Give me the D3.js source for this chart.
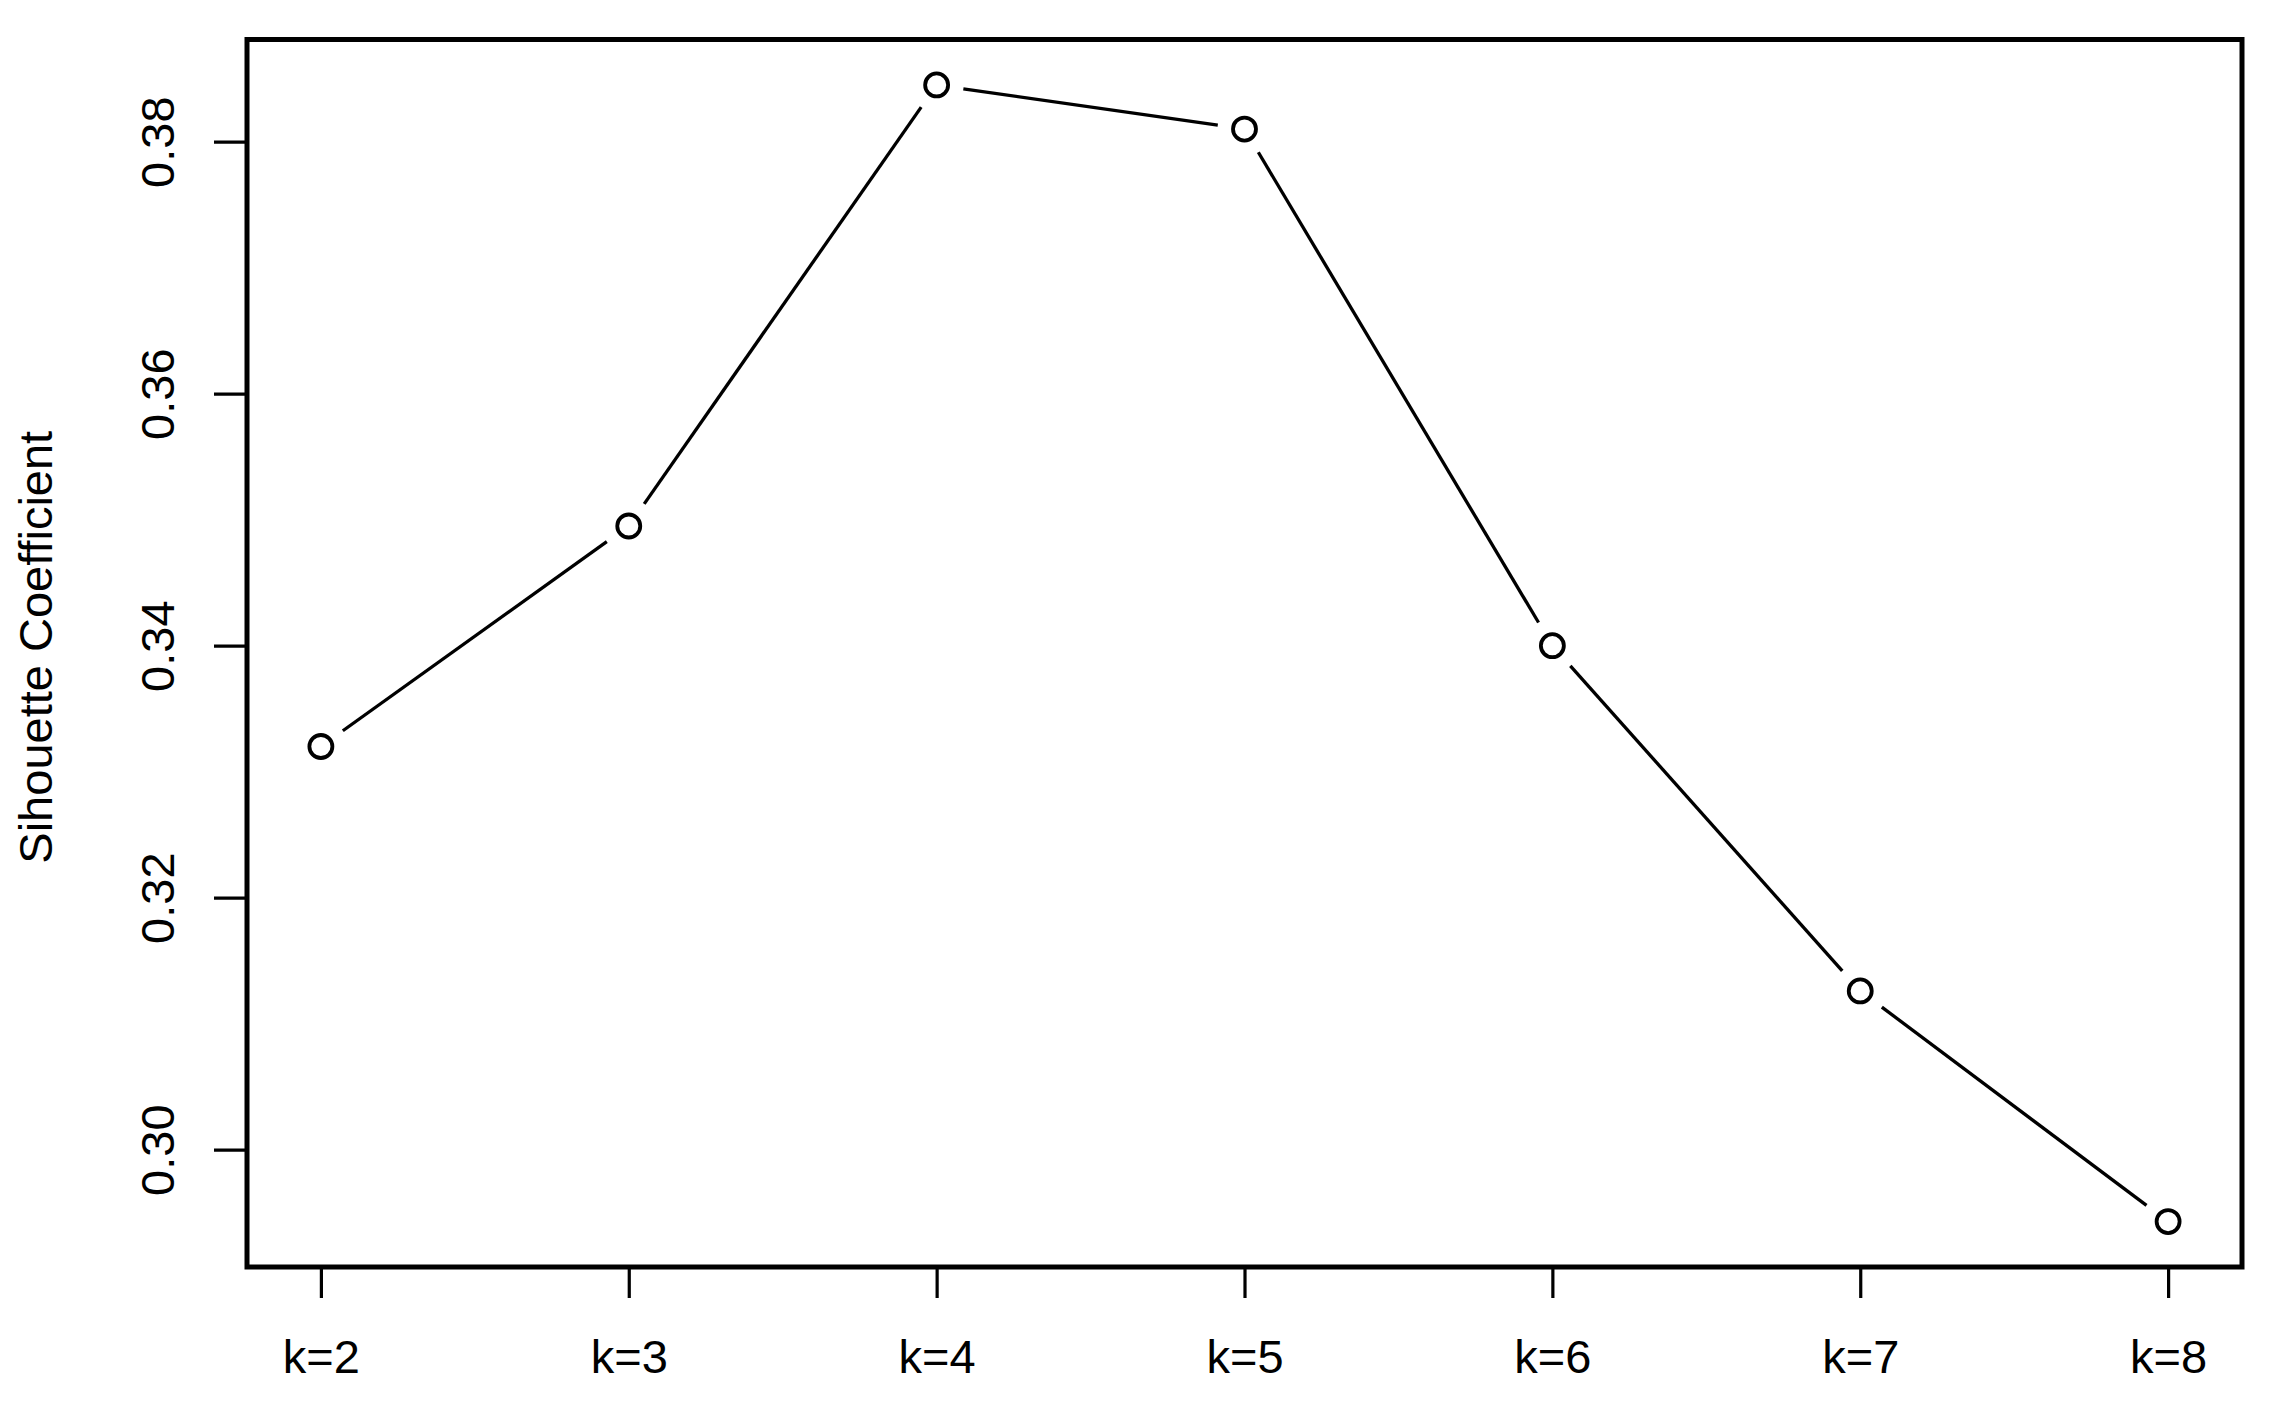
<!DOCTYPE html>
<html>
<head>
<meta charset="utf-8">
<script src="https://cdn.jsdelivr.net/npm/d3@7"></script>
<style>
  html, body { margin: 0; padding: 0; background: #fff; }
  text { font-family: "Liberation Sans", Arial, sans-serif; fill: #000; }
</style>
</head>
<body>
<script>
//categories and values
var kLabels = ["k=2", "k=3", "k=4", "k=5", "k=6", "k=7", "k=8"];
var kValues = [2, 3, 4, 5, 6, 7, 8];
var silhouette = [0.3320, 0.3495, 0.3845, 0.3810, 0.3400, 0.3126, 0.2943];
var yTicks = [0.30, 0.32, 0.34, 0.36, 0.38];
var yTitle = "Sihouette Coefficient";

(function(){
    var width = 2291,
        height = 1405;

    //plot box
    var left = 247, right = 2242, top = 39.5, bottom = 1267;

    var svg = d3.select("body")
        .append("svg")
        .attr("width", width)
        .attr("height", height);

    //R style 4% padding on both axes
    var xPad = (d3.max(kValues) - d3.min(kValues)) * 0.04;
    var x = d3.scaleLinear()
        .domain([d3.min(kValues) - xPad, d3.max(kValues) + xPad])
        .range([left, right]);

    var yPad = (d3.max(silhouette) - d3.min(silhouette)) * 0.04;
    var y = d3.scaleLinear()
        .domain([d3.min(silhouette) - yPad, d3.max(silhouette) + yPad])
        .range([bottom, top]);

    //x axis
    var xAxis = d3.axisBottom(x)
        .tickValues(kValues)
        .tickSize(31)
        .tickPadding(41.5)
        .tickFormat(function(d, i){ return kLabels[i]; });

    var gx = svg.append("g")
        .attr("transform", "translate(0," + bottom + ")")
        .call(xAxis);
    gx.select(".domain").remove();
    gx.selectAll(".tick line").attr("stroke", "#000").attr("stroke-width", 3.2);
    gx.selectAll(".tick text")
        .attr("font-size", 47)
        .attr("font-family", "Liberation Sans, Arial, sans-serif");

    //y axis, labels rotated like R
    var yAxis = d3.axisLeft(y)
        .tickValues(yTicks)
        .tickSize(33)
        .tickFormat(d3.format(".2f"));

    var gy = svg.append("g")
        .attr("transform", "translate(" + left + ",0)")
        .call(yAxis);
    gy.select(".domain").remove();
    gy.selectAll(".tick line").attr("stroke", "#000").attr("stroke-width", 3.2);
    gy.selectAll(".tick text")
        .attr("font-size", 47)
        .attr("font-family", "Liberation Sans, Arial, sans-serif")
        .attr("x", null)
        .attr("dy", null)
        .attr("text-anchor", "middle")
        .attr("transform", "translate(-73,0) rotate(-90)");

    //y title
    svg.append("text")
        .attr("transform", "translate(52," + ((top + bottom) / 2 - 6) + ") rotate(-90)")
        .attr("text-anchor", "middle")
        .attr("font-size", 47)
        .text(yTitle);

    //line segments with gaps around the points (type = "b")
    var gap = 27;
    var segs = [];
    for (var i = 0; i < kValues.length - 1; i++){
        var x1 = x(kValues[i]), y1 = y(silhouette[i]),
            x2 = x(kValues[i + 1]), y2 = y(silhouette[i + 1]);
        var len = Math.sqrt((x2 - x1) * (x2 - x1) + (y2 - y1) * (y2 - y1));
        var ux = (x2 - x1) / len, uy = (y2 - y1) / len;
        segs.push([x1 + ux * gap, y1 + uy * gap, x2 - ux * gap, y2 - uy * gap]);
    }

    svg.selectAll(".seg")
        .data(segs)
        .enter()
        .append("line")
        .attr("class", "seg")
        .attr("x1", function(d){ return d[0]; })
        .attr("y1", function(d){ return d[1]; })
        .attr("x2", function(d){ return d[2]; })
        .attr("y2", function(d){ return d[3]; })
        .attr("stroke", "#000")
        .attr("stroke-width", 3.3);

    //open circle points
    svg.selectAll(".pt")
        .data(silhouette)
        .enter()
        .append("circle")
        .attr("class", "pt")
        .attr("cx", function(d, i){ return x(kValues[i]); })
        .attr("cy", function(d){ return y(d); })
        .attr("r", 11.5)
        .attr("fill", "none")
        .attr("stroke", "#000")
        .attr("stroke-width", 3.8);

    //plot box
    svg.append("rect")
        .attr("x", left)
        .attr("y", top)
        .attr("width", right - left)
        .attr("height", bottom - top)
        .attr("fill", "none")
        .attr("stroke", "#000")
        .attr("stroke-width", 5);
})();
</script>
</body>
</html>
